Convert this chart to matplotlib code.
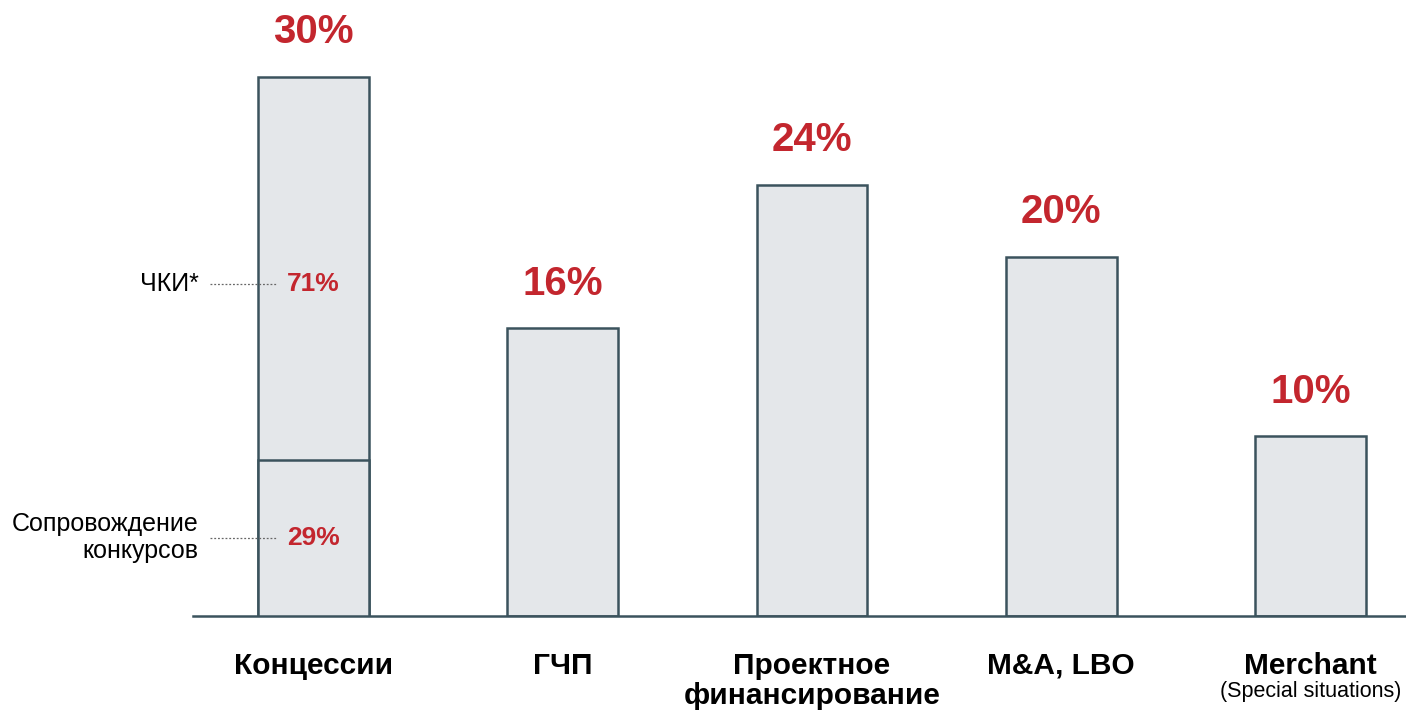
import matplotlib.pyplot as plt
from matplotlib.transforms import blended_transform_factory

plt.rcParams['font.family'] = ['Liberation Sans', 'DejaVu Sans']

# Revenue split by business line, %
categories = ['Концессии', 'ГЧП', 'Проектное\nфинансирование', 'M&A, LBO', 'Merchant']
subtitles = ['', '', '', '', '(Special situations)']
shares = [30, 16, 24, 20, 10]

# Breakdown of the concessions bar
conc_parts = ['Сопровождение\nконкурсов', 'ЧКИ*']
conc_split = [29, 71]

RED = '#c3262e'
EDGE = '#3b535d'
FILL = '#e4e7ea'

fig = plt.figure(figsize=(14.06, 7.10), dpi=100)
ax = fig.add_axes([193 / 1406, 94 / 710, 1 - 193 / 1406, 1 - 94 / 710])

x = list(range(len(categories)))
width = 0.445

bars = ax.bar(x, shares, width=width, color=FILL, edgecolor=EDGE, linewidth=1.8, zorder=2)

# divider inside the concessions bar
low = shares[0] * conc_split[0] / 100
ax.bar(x[0], low, width=width, color=FILL, edgecolor=EDGE, linewidth=1.8, zorder=3)

ax.set_xlim(-0.4835, 4.383)
ax.set_ylim(0, 34.28)
for s in ['top', 'right', 'left']:
    ax.spines[s].set_visible(False)
ax.spines['bottom'].set_color(EDGE)
ax.spines['bottom'].set_linewidth(1.8)
ax.set_xticks([])
ax.set_yticks([])

# value labels above bars
for xi, v in zip(x, shares):
    ax.annotate(f'{v}%', (xi, v), xytext=(0, 32), textcoords='offset points',
                ha='center', va='center', fontsize=29, fontweight='bold', color=RED)

# category labels under the axis
trans = blended_transform_factory(ax.transData, ax.transAxes)
for xi, cat, sub in zip(x, categories, subtitles):
    ax.text(xi, -0.058, cat, transform=trans, ha='center', va='top',
            fontsize=21.5, fontweight='bold', linespacing=1.1, clip_on=False)
    if sub:
        ax.text(xi, -0.123, sub, transform=trans, ha='center', va='center',
                fontsize=15.5, clip_on=False)

# inner split labels with dotted leaders
seg_y = [low / 2, low + (shares[0] - low) * 0.46]
for name, pct, yy in zip(conc_parts, conc_split, seg_y):
    ax.text(x[0], yy, f'{pct}%', ha='center', va='center', fontsize=19,
            fontweight='bold', color=RED, zorder=5)
    ax.plot([x[0] - 0.415, x[0] - 0.146], [yy, yy], linestyle=(0, (1.5, 1.5)),
            color='#666666', linewidth=0.9, zorder=4, clip_on=False)
    ax.text(x[0] - 0.46, yy, name, ha='right', va='center', fontsize=18,
            linespacing=1.15, clip_on=False)

fig.savefig('out.png', dpi=100)
